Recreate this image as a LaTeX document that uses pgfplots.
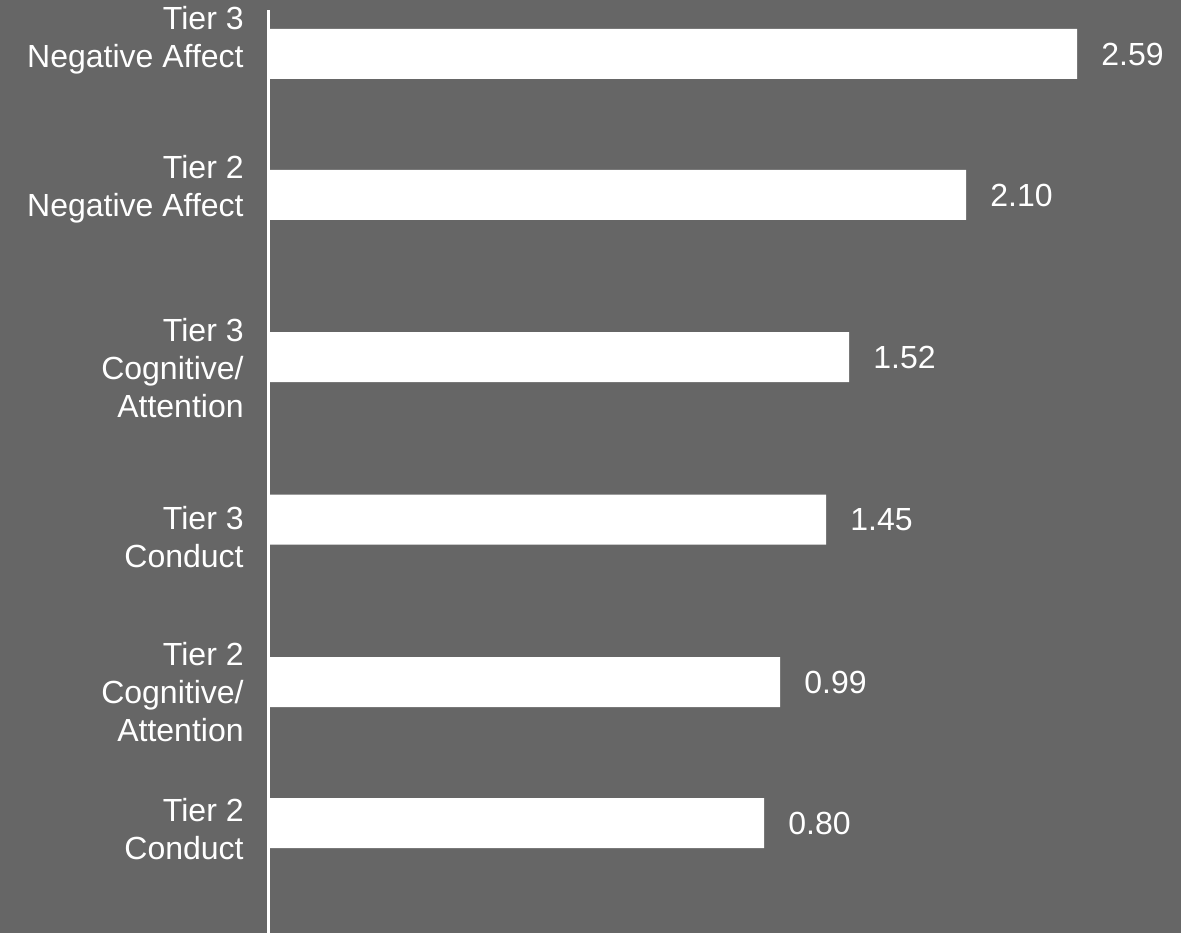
\documentclass[border=0pt]{standalone}
\usepackage{fontspec}
\setmainfont{Liberation Sans}
\usepackage{pgfplots}
\usepackage{pgfplotstable}
\pgfplotsset{compat=1.18}
\definecolor{bg}{RGB}{102,102,102}
\pgfplotstableread{
len pos lab
809 -54 2.59
698 -195 2.10
581 -357 1.52
558 -519.5 1.45
512 -682 0.99
496 -823 0.80
}\bars
\begin{document}
\begin{tikzpicture}
\fill[bg] (0,0) rectangle (590.5pt,466.5pt);
\useasboundingbox (0,0) rectangle (590.5pt,466.5pt);
\begin{axis}[
  at={(134pt,0pt)}, anchor=south west,
  scale only axis, width=456.5pt, height=461.5pt,
  xmin=0, xmax=913, ymin=-933, ymax=-10,
  separate axis lines,
  axis x line=none, axis y line*=left,
  y axis line style={white, line width=1.5pt},
  xtick=\empty,
  ytick={-40,-189,-368,-537,-692,-829},
  yticklabels={{Tier 3\\Negative Affect},{Tier 2\\Negative Affect},{Tier 3\\Cognitive/\\Attention},{Tier 3\\Conduct},{Tier 2\\Cognitive/\\Attention},{Tier 2\\Conduct}},
  major tick length=0pt,
  yticklabel style={align=right, anchor=east, inner sep=0pt, xshift=-12pt, text=white, font=\fontsize{16pt}{19pt}\selectfont},
  xbar, bar width=25pt, bar shift=0pt,
  nodes near coords, point meta=explicit symbolic,
  nodes near coords style={anchor=west, inner sep=0pt, xshift=12pt, text=white, font=\fontsize{16pt}{19pt}\selectfont},
  clip=false,
]
\addplot[fill=white, draw=none] table[x=len, y=pos, meta=lab] {\bars};
\end{axis}
\end{tikzpicture}
\end{document}
